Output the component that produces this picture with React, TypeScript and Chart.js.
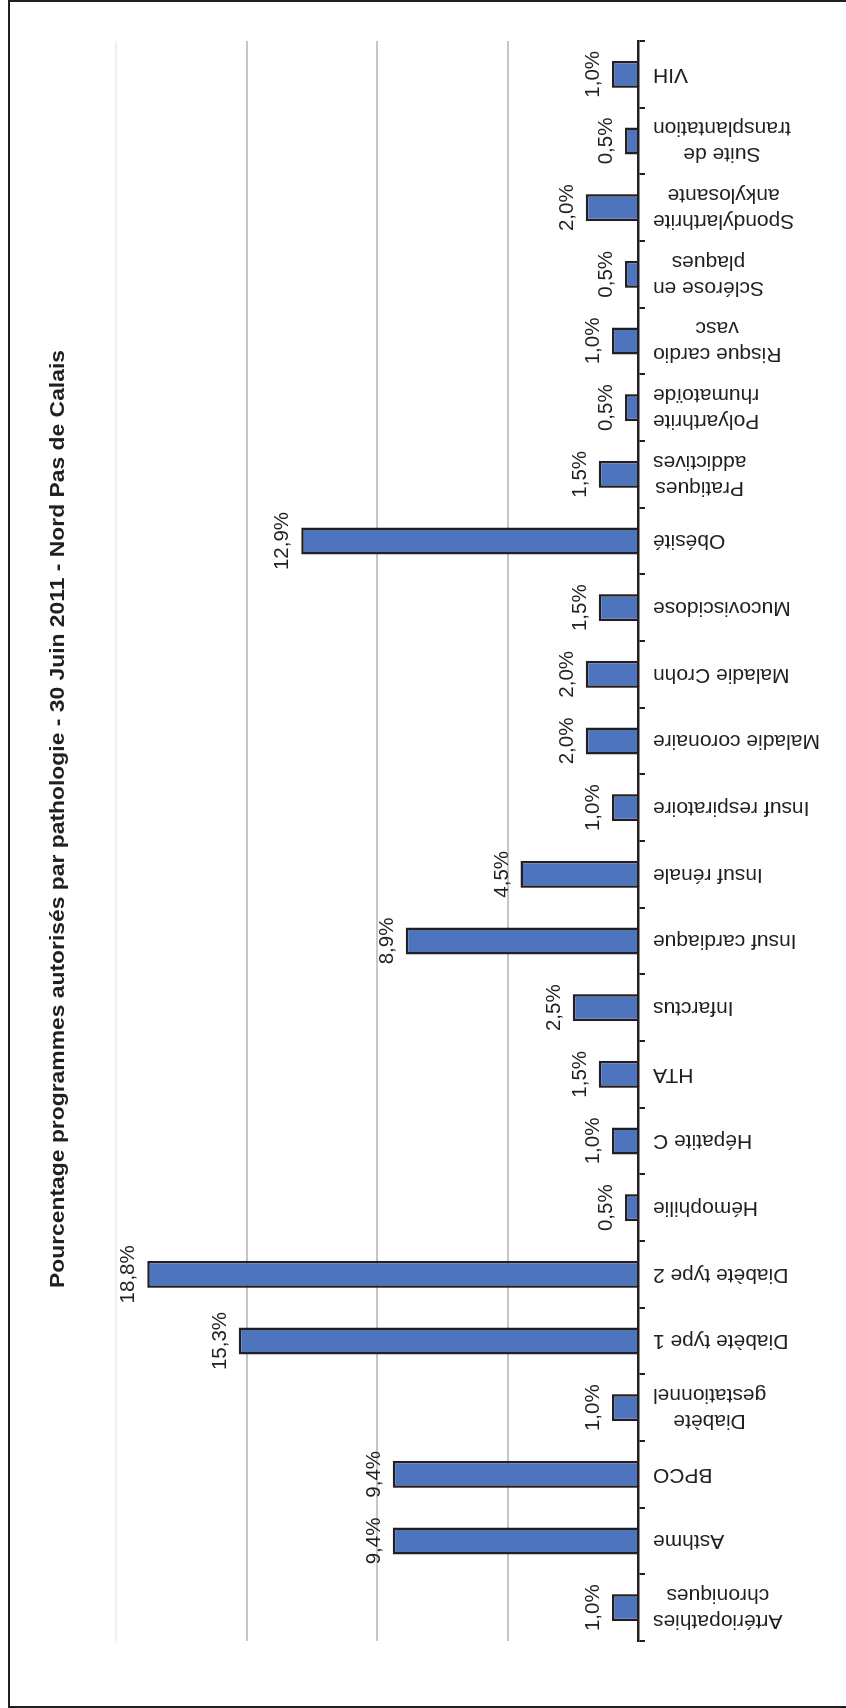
import React, { useEffect, useRef } from "react";
import { Chart, registerables } from "chart.js";

Chart.register(...registerables);

// Categories in the order of the (unrotated) column chart, left to right
const categories: string[][] = [
  ["Artériopathies", "chroniques"],
  ["Asthme"],
  ["BPCO"],
  ["Diabète", "gestationnel"],
  ["Diabète type 1"],
  ["Diabète type 2"],
  ["Hémophilie"],
  ["Hépatite C"],
  ["HTA"],
  ["Infarctus"],
  ["Insuf cardiaque"],
  ["Insuf rénale"],
  ["Insuf respiratoire"],
  ["Maladie coronaire"],
  ["Maladie Crohn"],
  ["Mucoviscidose"],
  ["Obésité"],
  ["Pratiques", "addictives"],
  ["Polyarthrite", "rhumatoïde"],
  ["Risque cardio", "vasc"],
  ["Sclérose en", "plaques"],
  ["Spondylarthrite", "ankylosante"],
  ["Suite de", "transplantation"],
  ["VIH"],
];

const values: number[] = [
  1.0, 9.4, 9.4, 1.0, 15.3, 18.8, 0.5, 1.0, 1.5, 2.5, 8.9, 4.5, 1.0, 2.0, 2.0,
  1.5, 12.9, 1.5, 0.5, 1.0, 0.5, 2.0, 0.5, 1.0,
];

const valueTicks: number[] = [0, 5, 10, 15, 20];

const title =
  "Pourcentage programmes autorisés par pathologie - 30 Juin 2011 - Nord Pas de Calais";

const INK = "#231f20";
const FONT = '"Liberation Sans", Arial, Helvetica, sans-serif';

const labelPlugin = {
  id: "customLabels",
  afterDatasetsDraw(chart: any) {
    const ctx = chart.ctx as CanvasRenderingContext2D;
    const xs = chart.scales.x;
    const ys = chart.scales.y;
    ctx.save();
    ctx.fillStyle = INK;
    ctx.font = `20.5px ${FONT}`;
    ctx.textAlign = "center";
    ctx.textBaseline = "alphabetic";
    values.forEach((v, i) => {
      const x = xs.getPixelForValue(i);
      const y = ys.getPixelForValue(v);
      ctx.fillText(v.toFixed(1).replace(".", ",") + "%", x, y - 13);
    });
    ctx.restore();
  },
  afterDraw(chart: any) {
    const ctx = chart.ctx as CanvasRenderingContext2D;
    const xs = chart.scales.x;
    const area = chart.chartArea;
    // category labels, rotated -90deg, block end near the axis, lines centered
    ctx.save();
    ctx.fillStyle = INK;
    ctx.font = `21px ${FONT}`;
    ctx.textBaseline = "middle";
    ctx.textAlign = "center";
    const lh = 26;
    categories.forEach((lines, i) => {
      const x = xs.getPixelForValue(i);
      const blockW = Math.max(...lines.map((l) => ctx.measureText(l).width));
      ctx.save();
      ctx.translate(x, area.bottom + 15);
      ctx.rotate(-Math.PI / 2);
      lines.forEach((l, k) => {
        const off = (k - (lines.length - 1) / 2) * lh;
        ctx.fillText(l, -blockW / 2, off);
      });
      ctx.restore();
    });
    ctx.restore();

    // title
    ctx.save();
    ctx.fillStyle = INK;
    ctx.font = `bold 21px ${FONT}`;
    ctx.textAlign = "center";
    ctx.textBaseline = "alphabetic";
    const w = ctx.measureText(title).width;
    const target = 938;
    ctx.translate(889, 64);
    ctx.scale(target / w, 1);
    ctx.fillText(title, 0, 0);
    ctx.restore();
  },
};

export default function App() {
  const ref = useRef<HTMLCanvasElement | null>(null);

  useEffect(() => {
    if (!ref.current) return;
    const chart = new Chart(ref.current, {
      type: "bar",
      data: {
        labels: categories,
        datasets: [
          {
            data: values,
            backgroundColor: "#4f74be",
            borderColor: INK,
            borderWidth: 2.5,
            categoryPercentage: 1,
            barPercentage: 0.405,
          },
        ],
      },
      options: {
        animation: false,
        responsive: false,
        maintainAspectRatio: false,
        devicePixelRatio: 1,
        layout: { padding: { left: 67, right: 41, top: 116, bottom: 201 } },
        plugins: {
          legend: { display: false },
          title: { display: false },
          tooltip: { enabled: false },
        },
        scales: {
          x: {
            type: "category",
            offset: true,
            ticks: { display: false },
            grid: {
              offset: true,
              drawOnChartArea: false,
              drawTicks: true,
              tickLength: 7,
              color: INK,
              lineWidth: 2,
            },
            border: { display: true, color: INK, width: 2.5 },
          },
          y: {
            min: 0,
            max: 20,
            afterBuildTicks: (s: any) => {
              s.ticks = valueTicks.map((v) => ({ value: v }));
            },
            ticks: { display: false },
            grid: {
              drawTicks: false,
              lineWidth: 2,
              color: (c: any) =>
                c.tick && c.tick.value === 0
                  ? "rgba(0,0,0,0)"
                  : c.tick && c.tick.value === 20
                  ? "#efefef"
                  : "#c6c6c6",
            },
            border: { display: false },
          },
        },
      },
      plugins: [labelPlugin],
    });
    return () => chart.destroy();
  }, []);

  return (
    <div
      style={{
        position: "absolute",
        left: 0,
        top: 0,
        width: 846,
        height: 1708,
        overflow: "hidden",
        background: "#ffffff",
      }}
    >
      <div
        style={{
          position: "absolute",
          left: 8,
          top: 0,
          width: 900,
          height: 1708,
          boxSizing: "border-box",
          borderTop: `2px solid ${INK}`,
          borderLeft: `2px solid ${INK}`,
          borderBottom: `2px solid ${INK}`,
        }}
      />
      <div
        style={{
          position: "absolute",
          left: 0,
          top: 0,
          width: 1708,
          height: 846,
          transformOrigin: "0 0",
          transform: "translate(0px, 1708px) rotate(-90deg)",
        }}
      >
        <canvas
          ref={ref}
          width={1708}
          height={846}
          style={{ width: 1708, height: 846, display: "block" }}
        />
      </div>
    </div>
  );
}
